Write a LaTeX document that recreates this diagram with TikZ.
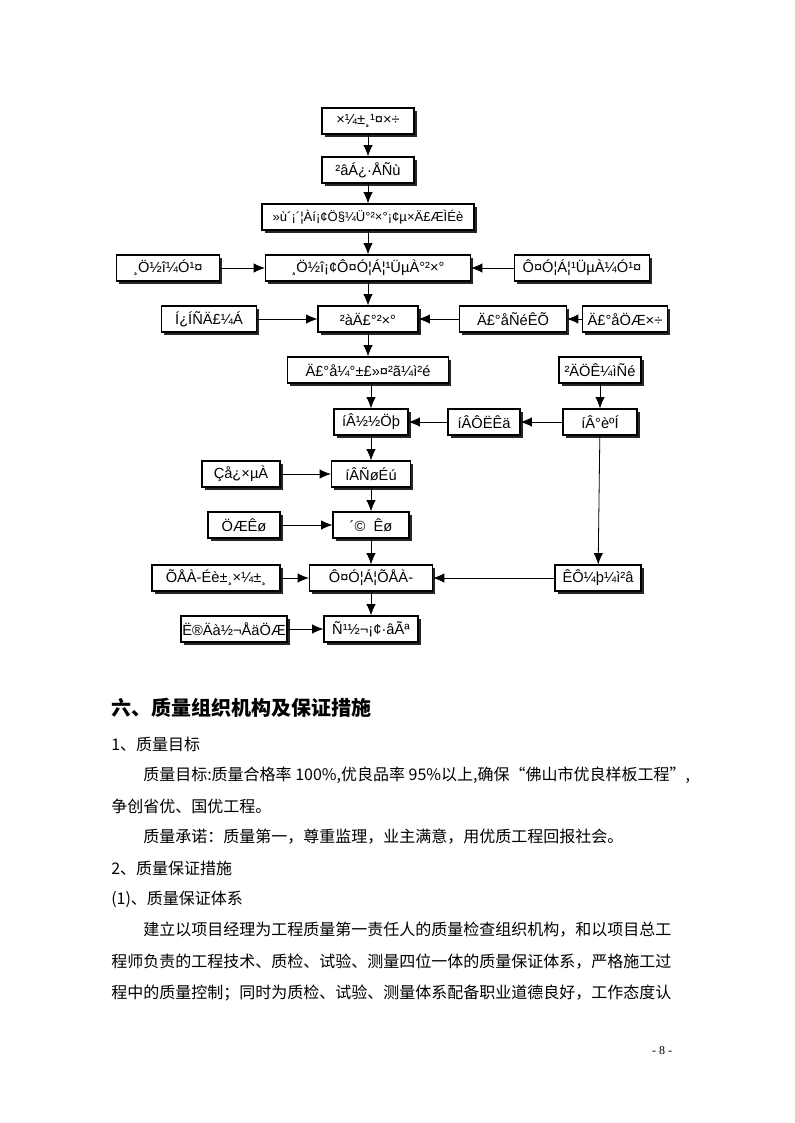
\documentclass[tikz,border=0pt]{standalone}
\usepackage{fontspec}
\setmainfont{Liberation Serif}
\newfontfamily\boxfont{Liberation Sans}
\newfontfamily\cjk{Noto Sans CJK SC}
\usetikzlibrary{shadows, arrows.meta, positioning}

\tikzset{
  stepbox/.style={draw, fill=white, line width=.8pt, font=\boxfont\fontsize{11}{12}\selectfont,
    minimum height=19.5pt, minimum width={#1*0.75pt}, inner sep=1pt,
    drop shadow={shadow xshift=2.2pt, shadow yshift=-2.2pt, fill=black!85, opacity=1}},
  flow/.style={line width=.6pt, -{Latex[length=8.5pt, width=7pt]}},
  para/.style={anchor=west, inner sep=0pt, font=\cjk\fontsize{12}{12}\selectfont}
}

\begin{document}
\begin{tikzpicture}[x=0.75pt, y=-0.75pt]
      \useasboundingbox (0,0) rectangle (794,1123);
      \node[stepbox=92] (zb) at (368, 121) {×¼±¸¹¤×÷};
      \node[stepbox=92] (cl) at (368, 170) {²âÁ¿·ÅÑù};
      \node[stepbox=212] (jc) at (368, 217) {\fontsize{9.8}{10}\selectfont »ù´¡´¦Àí¡¢Ö§¼Ü°²×°¡¢µ×Ä£ÆÌÉè};
      \node[stepbox=205] (gj) at (368, 268) {¸Ö½î¡¢Ô¤Ó¦Á¦¹ÜµÀ°²×°};
      \node[stepbox=103] (gjjg) at (168, 268) {¸Ö½î¼Ó¹¤};
      \node[stepbox=135] (yyl) at (582, 268) {Ô¤Ó¦Á¦¹ÜµÀ¼Ó¹¤};
      \node[stepbox=100] (cm) at (368, 319) {²àÄ£°²×°};
      \node[stepbox=95] (tsm) at (209, 319) {Í¿ÍÑÄ£¼Á};
      \node[stepbox=107] (mbys) at (513, 319) {Ä£°åÑéÊÕ};
      \node[stepbox=85] (mbzz) at (625, 319) {Ä£°åÖÆ×÷};
      \node[stepbox=161] (mbjc) at (368, 370) {Ä£°å¼°±£»¤²ã¼ì²é};
      \node[stepbox=82] (clsy) at (600, 370) {²ÄÖÊ¼ìÑé};
      \node[stepbox=74] (jz) at (371, 422) {íÂ½½Öþ};
      \node[stepbox=72] (ys) at (484, 422) {íÂÔËÊä};
      \node[stepbox=74] (bh) at (600, 422) {íÂ°èºÍ};
      \node[stepbox=79] (yh) at (371, 474) {íÂÑøÉú};
      \node[stepbox=78] (qkd) at (241, 474) {Çå¿×µÀ};
      \node[stepbox=76] (cs) at (371, 525) {´©\ \ Êø};
      \node[stepbox=72] (zs) at (244, 525) {ÖÆÊø};
      \node[stepbox=123] (zl) at (371, 578) {Ô¤Ó¦Á¦ÕÅÀ-};
      \node[stepbox=128] (zlsb) at (216, 578) {ÕÅÀ-Éè±¸×¼±¸};
      \node[stepbox=86] (sj) at (598, 578) {ÊÔ¼þ¼ì²â};
      \node[stepbox=94] (yj) at (371, 629) {Ñ¹½¬¡¢·âÃª};
      \node[stepbox=96] (snj) at (234, 629) {Ë®Äà½¬ÅäÖÆ};
      \draw[flow] (zb) -- (cl);
      \draw[flow] (cl) -- (jc);
      \draw[flow] (jc) -- (gj);
      \draw[flow] (gjjg) -- (gj);
      \draw[flow] (yyl) -- (gj);
      \draw[flow] (gj) -- (cm);
      \draw[flow] (tsm) -- (cm);
      \draw[flow] (mbys) -- (cm);
      \draw[flow] (mbzz) -- (mbys);
      \draw[flow] (cm) -- (mbjc);
      \draw[flow] (mbjc.south -| jz) -- (jz);
      \draw[flow] (clsy) -- (bh);
      \draw[flow] (bh) -- (ys);
      \draw[flow] (ys) -- (jz);
      \draw[flow] (jz) -- (yh);
      \draw[flow] (qkd) -- (yh);
      \draw[flow] (yh) -- (cs);
      \draw[flow] (zs) -- (cs);
      \draw[flow] (cs) -- (zl);
      \draw[flow] (zlsb) -- (zl);
      \draw[flow] (bh) -- (sj);
      \draw[flow] (sj) -- (zl);
      \draw[flow] (zl) -- (yj);
      \draw[flow] (snj) -- (yj);
      \node[para, font=\cjk\bfseries\fontsize{15}{15}\selectfont] (h6) at (111, 708) {六、质量组织机构及保证措施};
      \node[para] (l1) at (111, 744) {1、质量目标};
      \node[para] (l2) at (143, 775) {质量目标:质量合格率 100\%,优良品率 95\%以上,确保“佛山市优良样板工程”,};
      \node[para] (l3) at (111, 806) {争创省优、国优工程。};
      \node[para] (l4) at (143, 837) {质量承诺：质量第一，尊重监理，业主满意，用优质工程回报社会。};
      \node[para] (l5) at (111, 868) {2、质量保证措施};
      \node[para] (l6) at (111, 899) {(1)、质量保证体系};
      \node[para] (l7) at (143, 930) {建立以项目经理为工程质量第一责任人的质量检查组织机构，和以项目总工};
      \node[para] (l8) at (111, 962) {程师负责的工程技术、质检、试验、测量四位一体的质量保证体系，严格施工过};
      \node[para] (l9) at (111, 993) {程中的质量控制；同时为质检、试验、测量体系配备职业道德良好，工作态度认};
      \node[font=\fontsize{9}{9}\selectfont] (pg) at (662, 1051) {- 8 -};
    \end{tikzpicture}
\end{document}
